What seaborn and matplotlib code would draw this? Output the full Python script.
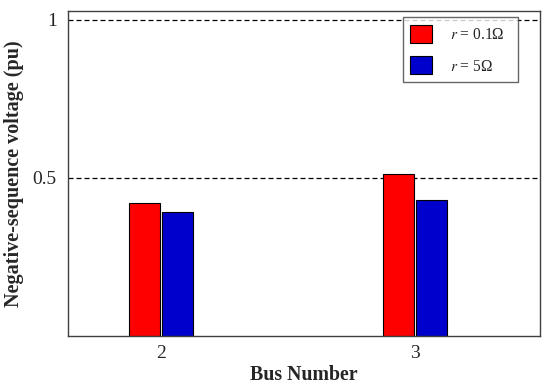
import matplotlib
matplotlib.use("Agg")
import matplotlib.pyplot as plt
import seaborn as sns
import pandas as pd
from matplotlib.patches import Patch

buses = ["2", "3"]
series = ["r = 0.1Ω", "r = 5Ω"]
values_r01 = [0.421, 0.513]
values_r5 = [0.392, 0.431]
yticks = [0.5, 1]
ytick_labels = ["0.5", "1"]
colors = ["#FF0000", "#0000CC"]
legend_labels = ["$r$ = 0.1Ω", "$r$ = 5Ω"]

df = pd.DataFrame({
    "Bus": buses * 2,
    "Series": [series[0]] * 2 + [series[1]] * 2,
    "Value": values_r01 + values_r5,
})

sns.set_style("white")
plt.rcParams["font.family"] = ["Liberation Serif", "DejaVu Serif"]
plt.rcParams["mathtext.fontset"] = "stix"

W, H = 550, 386
L, R, T, B = 68.3, 540, 10.7, 336.3
fig = plt.figure(figsize=(5.5, 3.86), dpi=100)
ax = fig.add_axes([L / W, 1 - B / H, (R - L) / W, (B - T) / H])

sns.barplot(data=df, x="Bus", y="Value", hue="Series", palette=colors,
            width=0.26, gap=0.05, edgecolor="black", linewidth=0.8,
            ax=ax, legend=False, saturation=1)

ax.set_xlim(-0.3666, 1.4927)
ax.set_ylim(0, 1.028)
ax.set_yticks(yticks)
ax.set_yticklabels(ytick_labels)
for y in yticks:
    ax.axhline(y, color="black", linestyle=(0, (4, 2.4)), linewidth=0.9, zorder=0)

ax.tick_params(axis="both", length=0, labelsize=14)
ax.tick_params(axis="x", pad=6.6)
ax.tick_params(axis="y", pad=8.3)
ax.set_xlabel("Bus Number", fontsize=14.3, fontweight="bold", labelpad=1.5)
ax.set_ylabel("Negative-sequence voltage (pu)", fontsize=14.5, fontweight="bold", labelpad=6)
for s in ax.spines.values():
    s.set_color("#404040")
    s.set_linewidth(1.0)
    s.set_visible(True)

handles = [Patch(facecolor=c, edgecolor="black", linewidth=0.8) for c in colors]
x0 = (402.7 - L) / (R - L)
wl = (518.3 - 402.7) / (R - L)
ytop = (B - 17.3) / (B - T)
hl = (85 - 17.3) / (B - T)
leg = ax.legend(handles, legend_labels, loc="upper left",
                bbox_to_anchor=(x0, ytop - hl, wl, hl), mode="expand",
                fontsize=11.2, frameon=True, fancybox=False, handlelength=1.37,
                handleheight=1.4, handletextpad=1.17, borderpad=0.5, labelspacing=0.85,
                borderaxespad=0)
leg.get_frame().set_edgecolor("#404040")
leg.get_frame().set_linewidth(1.0)

fig.savefig("out.png", dpi=100)
